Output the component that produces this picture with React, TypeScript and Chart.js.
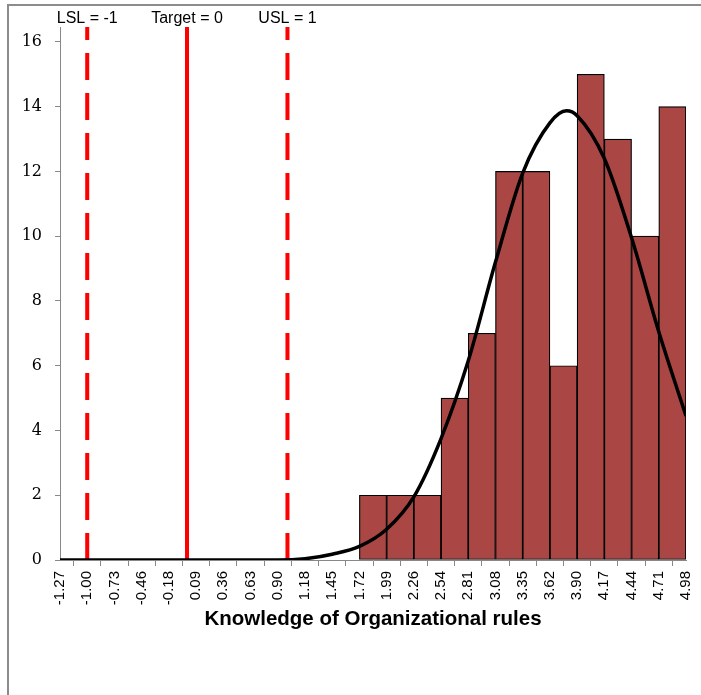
import React, { useEffect, useRef } from 'react';
import { Chart, registerables } from 'chart.js';

Chart.register(...registerables);

// ---- data ----
const xTickLabels = [
  '-1.27', '-1.00', '-0.73', '-0.46', '-0.18', '0.09', '0.36', '0.63', '0.90', '1.18', '1.45', '1.72',
  '1.99', '2.26', '2.54', '2.81', '3.08', '3.35', '3.62', '3.90', '4.17', '4.44', '4.71', '4.98',
];
// one count per bin between consecutive tick labels (23 bins)
const binCounts: (number | null)[] = [
  null, null, null, null, null, null, null, null, null, null, null,
  2, 2, 2, 5, 7, 12, 12, 6, 15, 13, 10, 14,
];
const yTicks = [0, 2, 4, 6, 8, 10, 12, 14, 16];
const curveX = [
  -1.27, -1.0, -0.73, -0.46, -0.18, 0.09, 0.36, 0.63, 0.9, 1.18, 1.45, 1.72, 1.99, 2.26, 2.54,
  2.81, 3.08, 3.35, 3.62, 3.79, 3.9, 4.17, 4.44, 4.71, 4.98,
];
const curveY = [
  0, 0, 0, 0, 0, 0, 0, 0, 0, 0.04, 0.18, 0.42, 0.95, 1.95, 3.75,
  6.15, 9.2, 11.95, 13.5, 13.87, 13.72, 12.4, 9.95, 7.05, 4.45,
];
const specValues = [-1, 0, 1];
const specLabels = ['LSL = -1', 'Target = 0', 'USL = 1'];
const specDashed = [true, false, true];
const xTitle = 'Knowledge of Organizational rules';

const Y_MAX = 16.46;

// map a value onto the tick-index axis (piecewise between tick label values)
const tickVals = xTickLabels.map((s) => parseFloat(s));
function toIdx(v: number): number {
  for (let i = 0; i < tickVals.length - 1; i++) {
    const a = tickVals[i];
    const b = tickVals[i + 1];
    if (v <= b || i === tickVals.length - 2) {
      return i + (v - a) / (b - a);
    }
  }
  return 0;
}

const specLabelPlugin = {
  id: 'specLabels',
  afterDraw(chart: any) {
    const { ctx } = chart;
    const x = chart.scales.x;
    ctx.save();
    ctx.font = '16px "Liberation Sans", Arial, sans-serif';
    ctx.fillStyle = '#000';
    ctx.textAlign = 'center';
    ctx.textBaseline = 'alphabetic';
    specValues.forEach((v, i) => {
      ctx.fillText(specLabels[i], x.getPixelForValue(toIdx(v)), 23);
    });
    ctx.restore();
  },
};

export default function App() {
  const ref = useRef<HTMLCanvasElement | null>(null);

  useEffect(() => {
    if (!ref.current) return;
    Chart.defaults.font.family = '"Liberation Sans", Arial, sans-serif';

    const specDatasets = specValues.map((v, i) => ({
      type: 'line' as const,
      data: [
        { x: toIdx(v), y: 0 },
        { x: toIdx(v), y: Y_MAX },
      ],
      borderColor: '#FF0000',
      borderWidth: 4,
      borderDash: specDashed[i] ? [27, 13] : [],
      pointRadius: 0,
      order: 1,
    }));

    const barData = binCounts
      .map((c, i) => ({ x: i + 0.5, y: c }))
      .filter((d) => d.y !== null);

    const chart = new Chart(ref.current, {
      type: 'line',
      data: {
        datasets: [
          {
            type: 'line',
            data: curveX.map((x, i) => ({ x: toIdx(x), y: curveY[i] })),
            borderColor: '#000',
            borderWidth: 3.5,
            pointRadius: 0,
            cubicInterpolationMode: 'monotone',
            order: 0,
          } as any,
          ...specDatasets,
          {
            type: 'bar',
            data: barData,
            backgroundColor: '#AA4745',
            borderColor: '#000',
            borderWidth: 1.2,
            borderSkipped: false,
            barPercentage: 1,
            categoryPercentage: 1,
            order: 2,
          } as any,
        ],
      },
      options: {
        responsive: false,
        animation: false,
        layout: { padding: { top: 27, right: 15, bottom: 0, left: 0 } },
        plugins: {
          legend: { display: false },
          tooltip: { enabled: false },
        },
        scales: {
          x: {
            type: 'linear',
            min: 0,
            max: xTickLabels.length - 1,
            offset: false,
            afterBuildTicks: (scale: any) => {
              scale.ticks = xTickLabels.map((_s, i) => ({ value: i }));
            },
            afterFit: (scale: any) => {
              scale.height = 135;
              scale.paddingLeft = 0;
              scale.paddingRight = 0;
            },
            ticks: {
              callback: (_v: any, i: number) => xTickLabels[i],
              autoSkip: false,
              minRotation: 90,
              maxRotation: 90,
              padding: 5,
              color: '#000',
              font: { size: 15, family: '"Liberation Sans", Arial, sans-serif' },
            },
            grid: { drawOnChartArea: false, drawTicks: true, tickLength: 6, color: '#888' },
            border: { color: '#888', width: 1 },
            title: {
              display: true,
              text: xTitle,
              color: '#000',
              font: { size: 20.5, weight: 'bold', family: '"Liberation Sans", Arial, sans-serif' },
              padding: { top: 0, bottom: 63 },
            },
          },
          y: {
            type: 'linear',
            min: 0,
            max: Y_MAX,
            afterBuildTicks: (scale: any) => {
              scale.ticks = yTicks.map((v) => ({ value: v }));
            },
            afterFit: (scale: any) => {
              scale.width = 60;
              scale.paddingTop = 0;
              scale.paddingBottom = 0;
            },
            ticks: {
              padding: 13,
              color: '#000',
              font: { size: 16, family: '"DejaVu Serif", serif' },
            },
            grid: { drawOnChartArea: false, drawTicks: true, tickLength: 5, color: '#888' },
            border: { color: '#888', width: 1 },
          },
        },
      } as any,
      plugins: [specLabelPlugin],
    });

    return () => chart.destroy();
  }, []);

  return (
    <div
      style={{
        position: 'absolute',
        left: 0,
        top: 0,
        width: 701,
        height: 695,
        overflow: 'hidden',
        background: '#fff',
      }}
    >
      <div
        style={{
          position: 'absolute',
          left: 7,
          top: 4,
          width: 760,
          height: 760,
          borderTop: '2px solid #8c8c8c',
          borderLeft: '2px solid #8c8c8c',
        }}
      />
      <canvas
        ref={ref}
        width={701}
        height={695}
        style={{ position: 'absolute', left: 0, top: 0, display: 'block' }}
      />
    </div>
  );
}
